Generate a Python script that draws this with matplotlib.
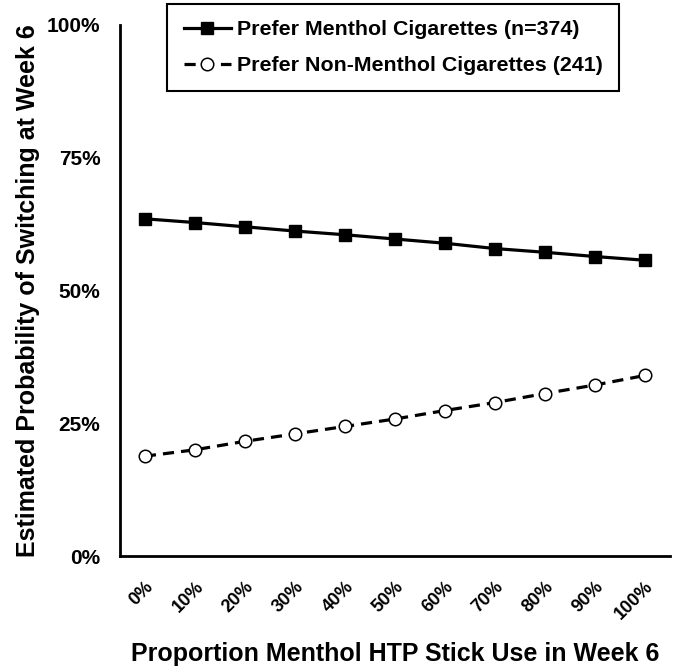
import numpy as np
import matplotlib
matplotlib.use('agg')
import matplotlib.pyplot as plt
from matplotlib.ticker import FuncFormatter

plt.rcParams['font.family'] = ['Liberation Sans', 'DejaVu Sans']
plt.rcParams['font.weight'] = 'bold'

### data
x_labels = ['0%', '10%', '20%', '30%', '40%', '50%', '60%', '70%', '80%', '90%', '100%']
menthol = [63.5, 62.8, 62.0, 61.2, 60.5, 59.7, 58.9, 57.9, 57.2, 56.4, 55.7]
non_menthol = [18.8, 20.0, 21.6, 23.0, 24.4, 25.8, 27.4, 28.9, 30.6, 32.2, 34.0]
y_ticks = [0, 25, 50, 75, 100]
label_menthol = 'Prefer Menthol Cigarettes (n=374)'
label_non = 'Prefer Non-Menthol Cigarettes (241)'

fig = plt.figure(figsize=(6.85, 6.72), dpi=100)
ax = fig.add_axes([0.175, 0.1726, 0.803, 0.7902])

xs = np.arange(len(x_labels))
ax.plot(xs, menthol, color='black', lw=2.3, marker='s', ms=8,
        mfc='black', mec='black', label=label_menthol)
ax.plot(xs, non_menthol, color='black', lw=2.3, ls=(0, (3.5, 2.2)), marker='o', ms=9,
        mfc='white', mec='black', mew=1.1, label=label_non)

ax.set_xlim(-0.5, len(x_labels) - 0.5)
ax.set_ylim(0, 100)
ax.set_yticks(y_ticks)
ax.yaxis.set_major_formatter(FuncFormatter(lambda v, p: '%d%%' % v))
ax.set_xticks(xs)
ax.set_xticklabels(x_labels, rotation=45, ha='right', rotation_mode='anchor', fontsize=13)
ax.tick_params(axis='y', length=0, pad=14, labelsize=15)
ax.tick_params(axis='x', length=0, pad=16)

for s in ['top', 'right']:
    ax.spines[s].set_visible(False)
for s in ['left', 'bottom']:
    ax.spines[s].set_linewidth(2)

ax.set_ylabel('Estimated Probability of Switching at Week 6', fontsize=18, fontweight='bold', labelpad=5)
ax.set_xlabel('Proportion Menthol HTP Stick Use in Week 6', fontsize=18, fontweight='bold', labelpad=14)

leg = ax.legend(loc='upper center', bbox_to_anchor=(0.574, 0.994), bbox_transform=fig.transFigure,
                fontsize=15.4, handlelength=2.2, handletextpad=0.3, borderpad=0.75, labelspacing=0.8,
                borderaxespad=0, fancybox=False, edgecolor='black', framealpha=1)
leg.get_frame().set_linewidth(1.5)

plt.savefig('out.png', dpi=100, facecolor='white')
